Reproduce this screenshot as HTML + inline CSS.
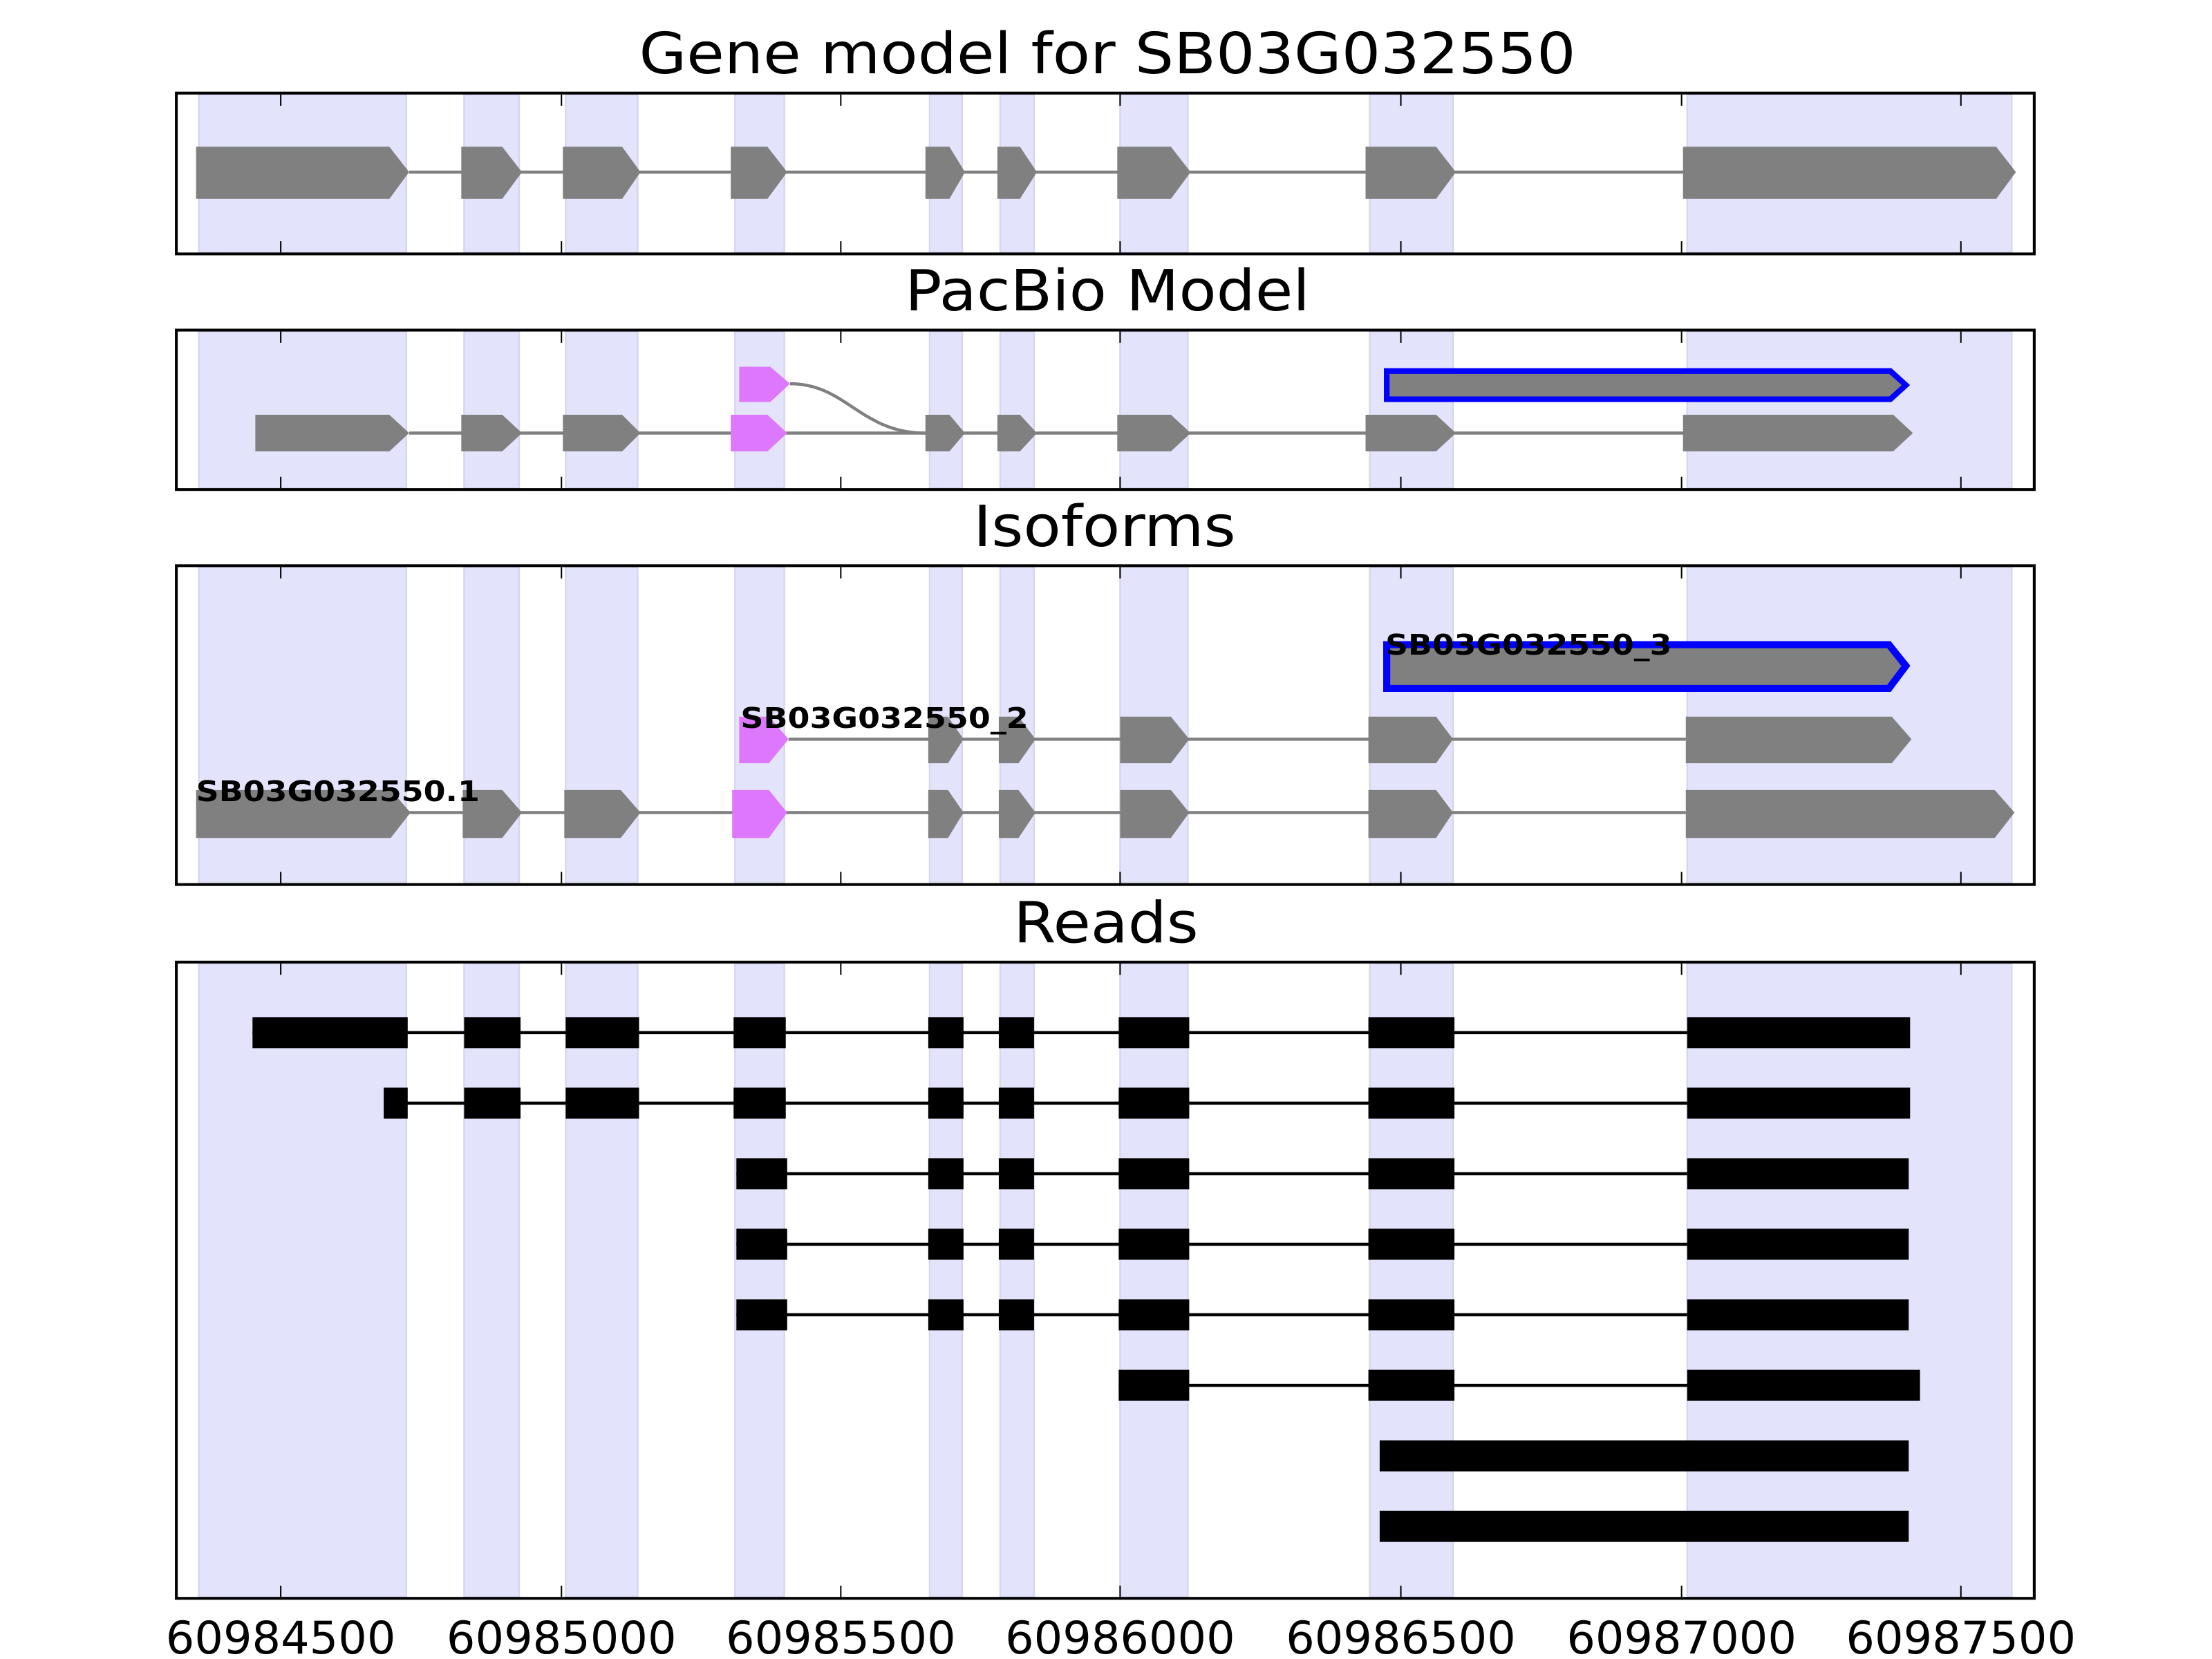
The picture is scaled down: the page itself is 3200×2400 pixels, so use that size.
<!DOCTYPE html>
<html><head><style>html,body{margin:0;padding:0;background:#fff}svg{display:block}</style></head>
<body>
<svg width="3200" height="2400" viewBox="0 0 1568 1176" xmlns="http://www.w3.org/2000/svg" font-family="'DejaVu Sans','Liberation Sans',sans-serif">
<defs>
<g id="bands">
<rect x="141" width="147" fill="#e3e3fc" stroke="#d4d4ec" stroke-width="1.2" height="100%"/>
</g>
</defs>
<rect width="1568" height="1176" fill="#fff"/>

<!-- band helper via repeated rects per panel -->
<g fill="#e3e3fc" stroke="#d6d6ee" stroke-width="1.2">
  <!-- panel1 66-180 -->
  <rect x="141" y="67" width="147" height="112"/><rect x="329" y="67" width="39" height="112"/><rect x="401" y="67" width="51" height="112"/><rect x="521" y="67" width="35" height="112"/><rect x="659" y="67" width="23" height="112"/><rect x="709" y="67" width="24" height="112"/><rect x="794" y="67" width="48" height="112"/><rect x="971" y="67" width="59" height="112"/><rect x="1196" y="67" width="230" height="112"/>
  <!-- panel2 234-347 -->
  <rect x="141" y="235" width="147" height="111"/><rect x="329" y="235" width="39" height="111"/><rect x="401" y="235" width="51" height="111"/><rect x="521" y="235" width="35" height="111"/><rect x="659" y="235" width="23" height="111"/><rect x="709" y="235" width="24" height="111"/><rect x="794" y="235" width="48" height="111"/><rect x="971" y="235" width="59" height="111"/><rect x="1196" y="235" width="230" height="111"/>
  <!-- panel3 401-627 -->
  <rect x="141" y="402" width="147" height="224"/><rect x="329" y="402" width="39" height="224"/><rect x="401" y="402" width="51" height="224"/><rect x="521" y="402" width="35" height="224"/><rect x="659" y="402" width="23" height="224"/><rect x="709" y="402" width="24" height="224"/><rect x="794" y="402" width="48" height="224"/><rect x="971" y="402" width="59" height="224"/><rect x="1196" y="402" width="230" height="224"/>
  <!-- panel4 682-1133 -->
  <rect x="141" y="683" width="147" height="449"/><rect x="329" y="683" width="39" height="449"/><rect x="401" y="683" width="51" height="449"/><rect x="521" y="683" width="35" height="449"/><rect x="659" y="683" width="23" height="449"/><rect x="709" y="683" width="24" height="449"/><rect x="794" y="683" width="48" height="449"/><rect x="971" y="683" width="59" height="449"/><rect x="1196" y="683" width="230" height="449"/>
</g>

<!-- Titles -->
<g font-size="40" text-anchor="middle" fill="#000">
<text x="785" y="52" textLength="664" lengthAdjust="spacingAndGlyphs">Gene model for SB03G032550</text>
<text x="785" y="220" textLength="287" lengthAdjust="spacingAndGlyphs">PacBio Model</text>
<text x="783" y="387" textLength="186" lengthAdjust="spacingAndGlyphs">Isoforms</text>
<text x="784" y="668" textLength="131" lengthAdjust="spacingAndGlyphs">Reads</text>
</g>

<!-- Panel 1 -->
<g stroke="#808080" stroke-width="2.2"><line x1="290" y1="122" x2="1195" y2="122"/></g>
<g fill="#808080">
<polygon points="139,104 276,104 290,122 276,141 139,141"/>
<polygon points="327,104 356,104 370,122 356,141 327,141"/>
<polygon points="399,104 441,104 454,122 441,141 399,141"/>
<polygon points="518,104 544,104 558,122 544,141 518,141"/>
<polygon points="656,104 673,104 684,122 673,141 656,141"/>
<polygon points="707,104 723,104 735,122 723,141 707,141"/>
<polygon points="792,104 830,104 844,122 830,141 792,141"/>
<polygon points="968,104 1018,104 1032,122 1018,141 968,141"/>
<polygon points="1193,104 1415,104 1429,122 1415,141 1193,141"/>
</g>

<!-- Panel 2 -->
<g stroke="#808080" stroke-width="2.2" fill="none">
<line x1="290" y1="307" x2="1195" y2="307"/>
<path d="M560,272 C600,272 610,307 656,307"/>
</g>
<g fill="#808080">
<polygon points="181,294 276,294 290,307 276,320 181,320"/>
<polygon points="327,294 356,294 370,307 356,320 327,320"/>
<polygon points="399,294 441,294 454,307 441,320 399,320"/>
<polygon points="656,294 673,294 684,307 673,320 656,320"/>
<polygon points="707,294 723,294 735,307 723,320 707,320"/>
<polygon points="792,294 830,294 844,307 830,320 792,320"/>
<polygon points="968,294 1018,294 1032,307 1018,320 968,320"/>
<polygon points="1193,294 1342,294 1356,307 1342,320 1193,320"/>
</g>
<g fill="#dd77fb">
<polygon points="518,294 544,294 558,307 544,320 518,320"/>
<polygon points="524,260 546,260 560,272 546,285 524,285"/>
</g>
<polygon points="983,263 1340,263 1351,273 1340,283 983,283" fill="#808080" stroke="#0000ff" stroke-width="4"/>

<!-- Panel 3 -->
<g stroke="#808080" stroke-width="2.2">
<line x1="559" y1="524" x2="1195" y2="524"/>
<line x1="290" y1="576" x2="1195" y2="576"/>
</g>
<g fill="#808080">
<polygon points="658,508 672,508 683,524 672,541 658,541"/>
<polygon points="708,508 722,508 734,524 722,541 708,541"/>
<polygon points="794,508 830,508 843,524 830,541 794,541"/>
<polygon points="970,508 1018,508 1030,524 1018,541 970,541"/>
<polygon points="1195,508 1341,508 1355,524 1341,541 1195,541"/>
<polygon points="139,560 277,560 291,576 277,594 139,594"/>
<polygon points="328,560 356,560 370,576 356,594 328,594"/>
<polygon points="400,560 440,560 454,576 440,594 400,594"/>
<polygon points="658,560 672,560 683,576 672,594 658,594"/>
<polygon points="708,560 722,560 734,576 722,594 708,594"/>
<polygon points="794,560 830,560 843,576 830,594 794,594"/>
<polygon points="970,560 1018,560 1030,576 1018,594 970,594"/>
<polygon points="1195,560 1414,560 1428,576 1414,594 1195,594"/>
</g>
<g fill="#dd77fb">
<polygon points="524,508 545,508 559,524 545,541 524,541"/>
<polygon points="519,560 545,560 558,576 545,594 519,594"/>
</g>
<polygon points="983,457 1339,457 1351,472 1339,488 983,488" fill="#808080" stroke="#0000ff" stroke-width="5"/>
<g font-size="20" font-weight="bold" fill="#000">
<text x="139" y="568" textLength="201" lengthAdjust="spacingAndGlyphs">SB03G032550.1</text>
<text x="525" y="516" textLength="204" lengthAdjust="spacingAndGlyphs">SB03G032550_2</text>
<text x="982" y="464" textLength="203" lengthAdjust="spacingAndGlyphs">SB03G032550_3</text>
</g>

<!-- Panel 4 reads -->
<g stroke="#000" stroke-width="2.2">
<line x1="179" y1="732" x2="1196" y2="732"/>
<line x1="272" y1="782" x2="1196" y2="782"/>
<line x1="522" y1="832" x2="1196" y2="832"/>
<line x1="522" y1="882" x2="1196" y2="882"/>
<line x1="522" y1="932" x2="1196" y2="932"/>
<line x1="793" y1="982" x2="1196" y2="982"/>
</g>
<g fill="#000">
<rect x="179" y="721" width="110" height="22"/><rect x="329" y="721" width="40" height="22"/><rect x="401" y="721" width="52" height="22"/><rect x="520" y="721" width="37" height="22"/><rect x="658" y="721" width="25" height="22"/><rect x="708" y="721" width="25" height="22"/><rect x="793" y="721" width="50" height="22"/><rect x="970" y="721" width="61" height="22"/><rect x="1196" y="721" width="158" height="22"/>
<rect x="272" y="771" width="17" height="22"/><rect x="329" y="771" width="40" height="22"/><rect x="401" y="771" width="52" height="22"/><rect x="520" y="771" width="37" height="22"/><rect x="658" y="771" width="25" height="22"/><rect x="708" y="771" width="25" height="22"/><rect x="793" y="771" width="50" height="22"/><rect x="970" y="771" width="61" height="22"/><rect x="1196" y="771" width="158" height="22"/>
<rect x="522" y="821" width="36" height="22"/><rect x="658" y="821" width="25" height="22"/><rect x="708" y="821" width="25" height="22"/><rect x="793" y="821" width="50" height="22"/><rect x="970" y="821" width="61" height="22"/><rect x="1196" y="821" width="157" height="22"/>
<rect x="522" y="871" width="36" height="22"/><rect x="658" y="871" width="25" height="22"/><rect x="708" y="871" width="25" height="22"/><rect x="793" y="871" width="50" height="22"/><rect x="970" y="871" width="61" height="22"/><rect x="1196" y="871" width="157" height="22"/>
<rect x="522" y="921" width="36" height="22"/><rect x="658" y="921" width="25" height="22"/><rect x="708" y="921" width="25" height="22"/><rect x="793" y="921" width="50" height="22"/><rect x="970" y="921" width="61" height="22"/><rect x="1196" y="921" width="157" height="22"/>
<rect x="793" y="971" width="50" height="22"/><rect x="970" y="971" width="61" height="22"/><rect x="1196" y="971" width="165" height="22"/>
<rect x="978" y="1021" width="375" height="22"/>
<rect x="978" y="1071" width="375" height="22"/>
</g>

<!-- Frames and ticks -->
<g fill="none" stroke="#000" stroke-width="2">
<rect x="125" y="66" width="1317" height="114"/>
<rect x="125" y="234" width="1317" height="113"/>
<rect x="125" y="401" width="1317" height="226"/>
<rect x="125" y="682" width="1317" height="451"/>
</g>
<g stroke="#000" stroke-width="1">
<path d="M199,67v8M398,67v8M596,67v8M794,67v8M993,67v8M1192,67v8M1390,67v8 M199,179v-8M398,179v-8M596,179v-8M794,179v-8M993,179v-8M1192,179v-8M1390,179v-8"/>
<path d="M199,235v8M398,235v8M596,235v8M794,235v8M993,235v8M1192,235v8M1390,235v8 M199,346v-8M398,346v-8M596,346v-8M794,346v-8M993,346v-8M1192,346v-8M1390,346v-8"/>
<path d="M199,402v8M398,402v8M596,402v8M794,402v8M993,402v8M1192,402v8M1390,402v8 M199,626v-8M398,626v-8M596,626v-8M794,626v-8M993,626v-8M1192,626v-8M1390,626v-8"/>
<path d="M199,683v8M398,683v8M596,683v8M794,683v8M993,683v8M1192,683v8M1390,683v8 M199,1132v-8M398,1132v-8M596,1132v-8M794,1132v-8M993,1132v-8M1192,1132v-8M1390,1132v-8"/>
</g>
<g font-size="32" text-anchor="middle" fill="#000">
<text x="199" y="1172" textLength="163" lengthAdjust="spacingAndGlyphs">60984500</text>
<text x="398" y="1172" textLength="163" lengthAdjust="spacingAndGlyphs">60985000</text>
<text x="596" y="1172" textLength="163" lengthAdjust="spacingAndGlyphs">60985500</text>
<text x="794" y="1172" textLength="163" lengthAdjust="spacingAndGlyphs">60986000</text>
<text x="993" y="1172" textLength="163" lengthAdjust="spacingAndGlyphs">60986500</text>
<text x="1192" y="1172" textLength="163" lengthAdjust="spacingAndGlyphs">60987000</text>
<text x="1390" y="1172" textLength="163" lengthAdjust="spacingAndGlyphs">60987500</text>
</g>
</svg>
</body></html>
